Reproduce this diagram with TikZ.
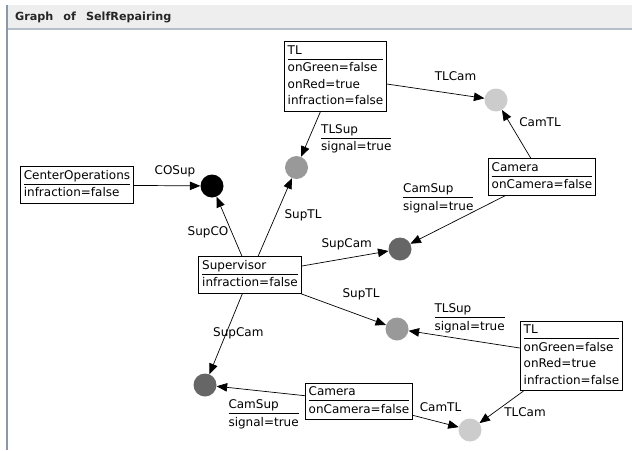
\documentclass[tikz,border=0pt]{standalone}
\usepackage{fontspec}
\setmainfont{DejaVu Sans}
\usetikzlibrary{arrows.meta}

\definecolor{barbg}{HTML}{EEEEEE}
\definecolor{barline}{HTML}{B4BEC8}
\definecolor{frameline}{HTML}{8A98A8}
\definecolor{stgray}{HTML}{999999}
\definecolor{stlight}{HTML}{CCCCCC}
\definecolor{stdark}{HTML}{666666}

\setlength\arrayrulewidth{0.8pt}
% header line, rule, then the attribute lines
\newcommand\attrblock[2]{\begin{tabular}{@{}l@{}}#1\\\hline\rule{0pt}{12pt}#2\end{tabular}}

\begin{document}
\begin{tikzpicture}[x=1pt,y=-1pt,
  txt/.style={font=\fontsize{12}{15}\selectfont},
  box/.style={txt, draw, line width=0.8pt, fill=white, inner xsep=3.5pt, inner ysep=2pt},
  attr/.style={txt, inner sep=0pt, anchor=north west},
  lbl/.style={txt, inner sep=0pt, anchor=base},
  state/.style={circle, minimum size=23pt, inner sep=0pt},
  link/.style={line width=0.7pt, -{Triangle[length=10.5pt,width=8.5pt]}},
  title/.style={font=\fontsize{11.2}{13}\selectfont\bfseries, text=black!85, inner sep=0pt, anchor=base west}]

\useasboundingbox (0,0) rectangle (632,450);
\fill[white] (0,0) rectangle (632,450);

% window title bar and frame
\fill[barbg] (7,5) rectangle (632,28);
\fill[barline] (7,28) rectangle (632,30);
\fill[frameline] (5.5,5) rectangle (7.5,450);
\node[title] (title) at (15,20.5) {Graph\hspace{10pt}of\hspace{10pt}SelfRepairing};

% components
\node[box] (co)   at (77,185)    {\attrblock{CenterOperations}{infraction=false}};
\node[box] (tlA)  at (335.5,76.5) {\attrblock{TL}{onGreen=false\\[1.5pt]onRed=true\\[1.5pt]infraction=false}};
\node[box] (camA) at (542,177)   {\attrblock{Camera}{onCamera=false}};
\node[box] (sup)  at (250,275)   {\attrblock{Supervisor}{infraction=false}};
\node[box] (tlB)  at (571.5,356) {\attrblock{TL}{onGreen=false\\[1.5pt]onRed=true\\[1.5pt]infraction=false}};
\node[box] (camB) at (359,401.5) {\attrblock{Camera}{onCamera=false}};

% channels
\node[state, fill=black]   (coSup)   at (212,186)   {};
\node[state, fill=stgray]  (tlSupA)  at (296.5,167.5) {};
\node[state, fill=stlight] (tlCamA)  at (496,100)   {};
\node[state, fill=stdark]  (camSupA) at (400,249)   {};
\node[state, fill=stgray]  (tlSupB)  at (397,329)   {};
\node[state, fill=stlight] (tlCamB)  at (470,430)   {};
\node[state, fill=stdark]  (camSupB) at (205,385)   {};

% connections
\draw[link] (co)   -- (coSup);
\draw[link] (sup)  -- (coSup);
\draw[link] (tlA)  -- (tlSupA);
\draw[link] (sup)  -- (tlSupA);
\draw[link] (tlA)  -- (tlCamA);
\draw[link] (camA) -- (tlCamA);
\draw[link] (camA) -- (camSupA);
\draw[link] (sup)  -- (camSupA);
\draw[link] (sup)  -- (tlSupB);
\draw[link] (tlB)  -- (tlSupB);
\draw[link] (tlB)  -- (tlCamB);
\draw[link] (camB) -- (tlCamB);
\draw[link] (camB) -- (camSupB);
\draw[link] (sup)  -- (camSupB);

% connection labels
\node[lbl] (lCOSup)   at (175,174.4)   {COSup};
\node[lbl] (lSupCO)   at (208,235.1)   {SupCO};
\node[lbl] (lTLCamA)  at (455.5,80.4)  {TLCam};
\node[lbl] (lCamTLA)  at (540,126.1)   {CamTL};
\node[lbl] (lSupTLA)  at (303,218.4)   {SupTL};
\node[lbl] (lSupCamA) at (346.7,247.7) {SupCam};
\node[lbl] (lSupTLB)  at (361,297.7)   {SupTL};
\node[lbl] (lTLCamB)  at (525,416.1)   {TLCam};
\node[lbl] (lCamTLB)  at (440.5,411.1) {CamTL};
\node[lbl] (lSupCamB) at (238.3,336.1) {SupCam};

% signal labels
\node[attr] (sTLSupA)  at (321,122.9)   {\attrblock{TLSup}{signal=true}};
\node[attr] (sCamSupA) at (403,182)     {\attrblock{CamSup}{signal=true}};
\node[attr] (sTLSupB)  at (434.3,302.2) {\attrblock{TLSup}{signal=true}};
\node[attr] (sCamSupB) at (228.3,398.2) {\attrblock{CamSup}{signal=true}};
\end{tikzpicture}
\end{document}
